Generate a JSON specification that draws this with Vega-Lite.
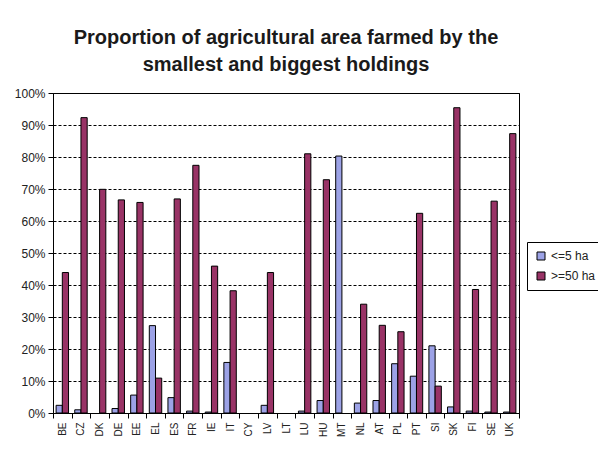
{
  "$schema": "https://vega.github.io/schema/vega-lite/v6.json",
  "width": 466,
  "height": 320,
  "autosize": {"type": "none"},
  "padding": {"left": 53, "top": 93, "right": 79, "bottom": 40},
  "background": "white",
  "title": {
    "text": ["Proportion of agricultural area farmed by the", "smallest and biggest holdings"],
    "font": "Liberation Sans",
    "fontSize": 20,
    "fontWeight": "bold",
    "color": "#1a1a1a",
    "anchor": "middle",
    "lineHeight": 27,
    "offset": 12
  },
  "data": {
    "values": [
      {"country": "BE", "size": "<=5 ha", "share": 0.024},
      {"country": "BE", "size": ">=50 ha", "share": 0.439},
      {"country": "CZ", "size": "<=5 ha", "share": 0.010},
      {"country": "CZ", "size": ">=50 ha", "share": 0.923},
      {"country": "DK", "size": ">=50 ha", "share": 0.699},
      {"country": "DE", "size": "<=5 ha", "share": 0.014},
      {"country": "DE", "size": ">=50 ha", "share": 0.666},
      {"country": "EE", "size": "<=5 ha", "share": 0.056},
      {"country": "EE", "size": ">=50 ha", "share": 0.658},
      {"country": "EL", "size": "<=5 ha", "share": 0.273},
      {"country": "EL", "size": ">=50 ha", "share": 0.109},
      {"country": "ES", "size": "<=5 ha", "share": 0.048},
      {"country": "ES", "size": ">=50 ha", "share": 0.669},
      {"country": "FR", "size": "<=5 ha", "share": 0.006},
      {"country": "FR", "size": ">=50 ha", "share": 0.774},
      {"country": "IE", "size": "<=5 ha", "share": 0.003},
      {"country": "IE", "size": ">=50 ha", "share": 0.459},
      {"country": "IT", "size": "<=5 ha", "share": 0.158},
      {"country": "IT", "size": ">=50 ha", "share": 0.382},
      {"country": "LV", "size": "<=5 ha", "share": 0.024},
      {"country": "LV", "size": ">=50 ha", "share": 0.439},
      {"country": "LU", "size": "<=5 ha", "share": 0.006},
      {"country": "LU", "size": ">=50 ha", "share": 0.810},
      {"country": "HU", "size": "<=5 ha", "share": 0.039},
      {"country": "HU", "size": ">=50 ha", "share": 0.729},
      {"country": "MT", "size": "<=5 ha", "share": 0.803},
      {"country": "NL", "size": "<=5 ha", "share": 0.031},
      {"country": "NL", "size": ">=50 ha", "share": 0.340},
      {"country": "AT", "size": "<=5 ha", "share": 0.039},
      {"country": "AT", "size": ">=50 ha", "share": 0.274},
      {"country": "PL", "size": "<=5 ha", "share": 0.154},
      {"country": "PL", "size": ">=50 ha", "share": 0.254},
      {"country": "PT", "size": "<=5 ha", "share": 0.115},
      {"country": "PT", "size": ">=50 ha", "share": 0.624},
      {"country": "SI", "size": "<=5 ha", "share": 0.210},
      {"country": "SI", "size": ">=50 ha", "share": 0.084},
      {"country": "SK", "size": "<=5 ha", "share": 0.019},
      {"country": "SK", "size": ">=50 ha", "share": 0.954},
      {"country": "FI", "size": "<=5 ha", "share": 0.006},
      {"country": "FI", "size": ">=50 ha", "share": 0.386},
      {"country": "SE", "size": "<=5 ha", "share": 0.003},
      {"country": "SE", "size": ">=50 ha", "share": 0.662},
      {"country": "UK", "size": "<=5 ha", "share": 0.003},
      {"country": "UK", "size": ">=50 ha", "share": 0.873}
    ]
  },
  "mark": {"type": "bar", "stroke": "black", "strokeWidth": 1},
  "encoding": {
    "x": {
      "field": "country",
      "type": "nominal",
      "scale": {
        "domain": ["BE", "CZ", "DK", "DE", "EE", "EL", "ES", "FR", "IE", "IT", "CY", "LV", "LT", "LU", "HU", "MT", "NL", "AT", "PL", "PT", "SI", "SK", "FI", "SE", "UK"],
        "paddingInner": 0,
        "paddingOuter": 0
      },
      "axis": {
        "title": null,
        "labelAngle": 270,
        "tickBand": "extent",
        "tickSize": 5,
        "tickColor": "black",
        "domainColor": "black",
        "labelFont": "Liberation Sans",
        "labelFontSize": 10,
        "labelColor": "#222222",
        "labelPadding": 4
      }
    },
    "xOffset": {
      "field": "size",
      "scale": {"domain": ["<=5 ha", ">=50 ha"], "paddingOuter": 0.5, "paddingInner": 0}
    },
    "y": {
      "field": "share",
      "type": "quantitative",
      "scale": {"domain": [0, 1]},
      "axis": {
        "title": null,
        "format": ".0%",
        "values": [0, 0.1, 0.2, 0.3, 0.4, 0.5, 0.6, 0.7, 0.8, 0.9, 1],
        "grid": true,
        "gridColor": "black",
        "gridDash": [3, 2],
        "gridWidth": 1,
        "domainColor": "black",
        "tickColor": "black",
        "tickSize": 5,
        "labelFont": "Liberation Sans",
        "labelFontSize": 12,
        "labelColor": "#222222",
        "labelPadding": 3
      }
    },
    "color": {
      "field": "size",
      "type": "nominal",
      "scale": {"domain": ["<=5 ha", ">=50 ha"], "range": ["#9CA2E6", "#993366"]},
      "legend": {
        "title": null,
        "orient": "none",
        "legendX": 474,
        "legendY": 149,
        "strokeColor": "black",
        "fillColor": "white",
        "padding": 8,
        "symbolType": "square",
        "symbolSize": 64,
        "symbolStrokeColor": "black",
        "symbolStrokeWidth": 1,
        "labelFont": "Liberation Sans",
        "labelFontSize": 12,
        "labelColor": "#222222",
        "labelOffset": 4,
        "rowPadding": 8
      }
    }
  },
  "config": {
    "view": {"stroke": "black", "strokeWidth": 1}
  }
}
